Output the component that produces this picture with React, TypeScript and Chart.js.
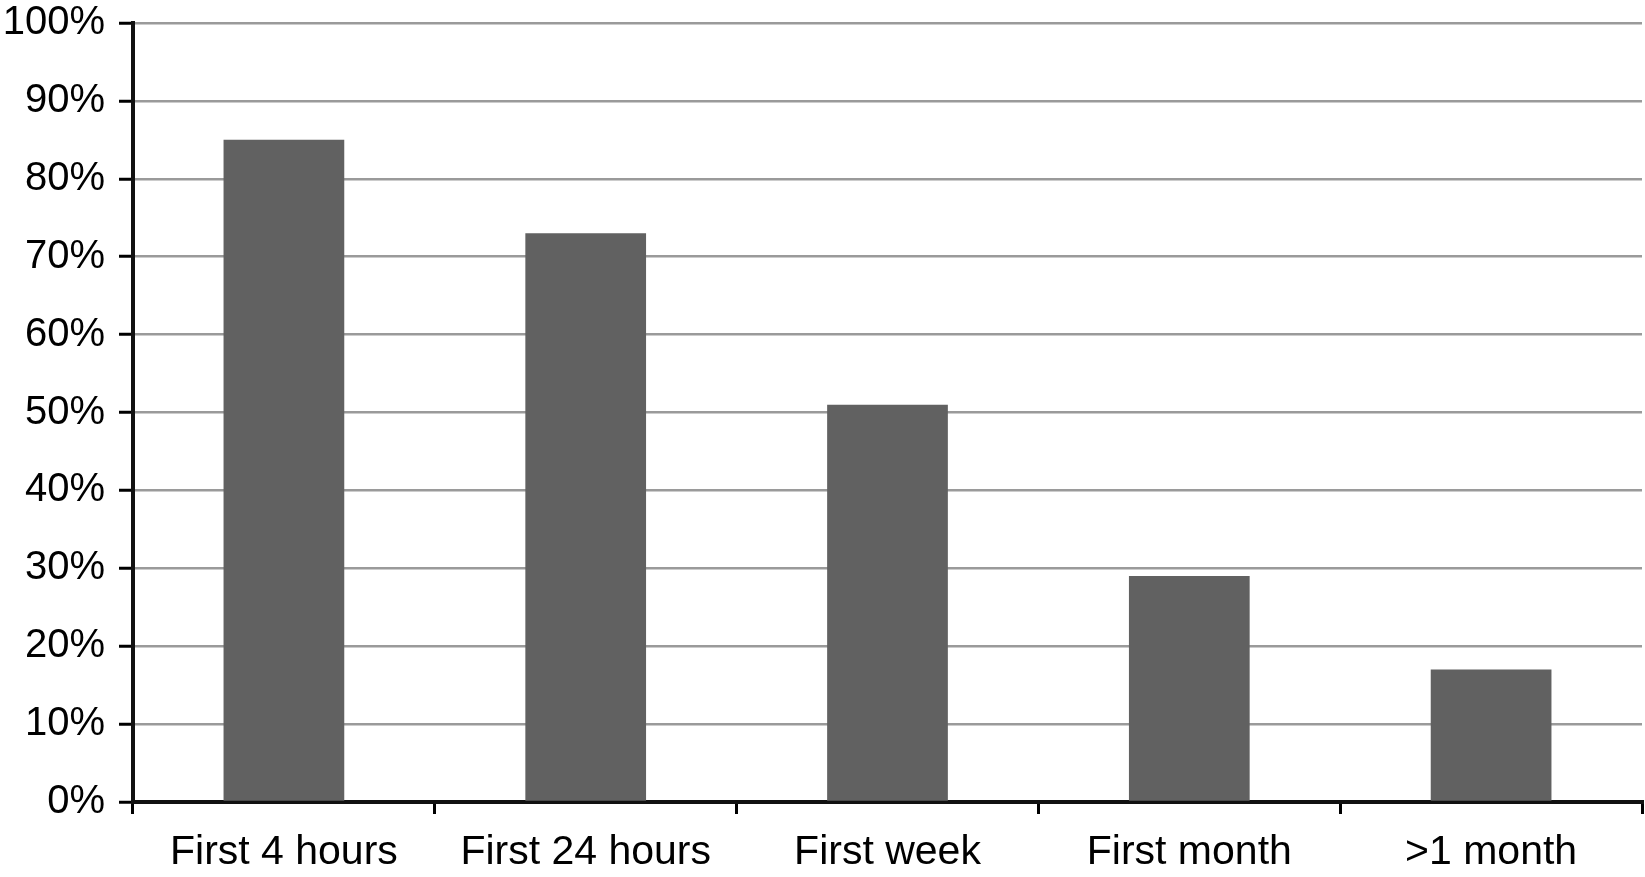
import React, { useEffect, useRef } from "react";
import { Chart, registerables } from "chart.js";

Chart.register(...registerables);

const categories = ["First 4 hours", "First 24 hours", "First week", "First month", ">1 month"];
const values = [85, 73, 51, 29, 17];
const yTicks = [0, 10, 20, 30, 40, 50, 60, 70, 80, 90, 100];

export default function App() {
  const ref = useRef<HTMLCanvasElement | null>(null);
  useEffect(() => {
    if (!ref.current) return;
    const family = "'Liberation Sans', Arial, Helvetica, sans-serif";
    const chart = new Chart(ref.current, {
      type: "bar",
      data: {
        labels: categories,
        datasets: [
          {
            data: values,
            backgroundColor: "#616161",
            borderWidth: 0,
            barPercentage: 0.4,
            categoryPercentage: 1,
          },
        ],
      },
      options: {
        animation: false,
        responsive: false,
        layout: { padding: { left: 3, top: 0, right: 3, bottom: 0 } },
        plugins: { legend: { display: false }, tooltip: { enabled: false } },
        scales: {
          x: {
            afterFit: (s: any) => {
              s.height = 75;
            },
            grid: {
              offset: true,
              drawOnChartArea: false,
              drawTicks: true,
              tickLength: 12,
              tickColor: "#000",
              lineWidth: 3,
            },
            border: { color: "#111", width: 4 },
            ticks: { color: "#000", font: { family, size: 41, lineHeight: 1.2 }, padding: 14, maxRotation: 0 },
          },
          y: {
            min: 0,
            max: 100,
            afterFit: (s: any) => {
              s.width = 130;
            },
            afterBuildTicks: (axis: any) => {
              axis.ticks = yTicks.map((v) => ({ value: v }));
            },
            grid: {
              color: "#9a9a9a",
              lineWidth: 2.5,
              tickLength: 14,
              tickColor: "#000",
              tickWidth: 3,
            },
            border: { color: "#111", width: 4 },
            ticks: {
              color: "#000",
              font: { family, size: 40, lineHeight: 0.45 },
              padding: 14,
              callback: (v: any) => v + "%",
            },
          },
        },
      },
    });
    return () => chart.destroy();
  }, []);
  return (
    <div style={{ position: "fixed", left: 0, top: 0, width: 1645, height: 877, background: "#fff" }}>
      <canvas ref={ref} width={1645} height={877} style={{ display: "block" }} />
    </div>
  );
}
